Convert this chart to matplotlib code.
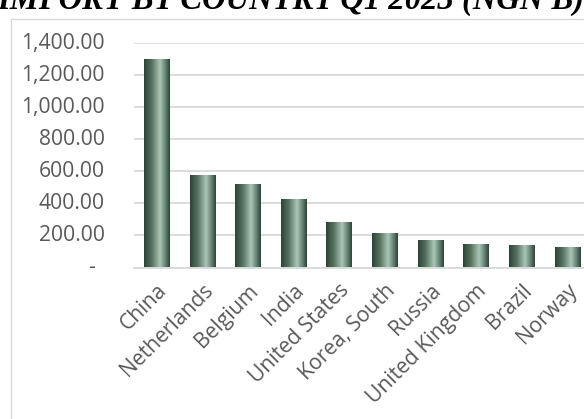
import numpy as np
import matplotlib
matplotlib.use('Agg')
import matplotlib.pyplot as plt
from matplotlib.colors import LinearSegmentedColormap
from matplotlib.patches import Rectangle
from matplotlib.transforms import ScaledTranslation

# 数据
countries = ['China', 'Netherlands', 'Belgium', 'India', 'United States',
             'Korea, South', 'Russia', 'United Kingdom', 'Brazil', 'Norway']
imports = [1300, 577, 521, 428, 285, 216, 171, 146, 140, 126]
yticks = [0, 200, 400, 600, 800, 1000, 1200, 1400]
title = 'IMPORT BY COUNTRY Q1 2023 (NGN B)'

grey = '#595959'
grid = '#d9d9d9'
fs = 15.2

fig = plt.figure(figsize=(5.84, 4.19), dpi=100)
W, H = 584, 419
ax = fig.add_axes([133.7 / W, 151.5 / H, (590 - 133.7) / W, (267.5 - 43) / H])

x = np.arange(len(countries))
bars = ax.bar(x, imports, width=0.55, facecolor='none', edgecolor='none', zorder=3)

# 渐变填充
cmap = LinearSegmentedColormap.from_list(
    'bar', [(0, '#2c4237'), (0.3, '#56725f'), (0.62, '#abc6b6'),
            (0.85, '#5d7a6b'), (1, '#2c4237')])
grad = np.linspace(0, 1, 256).reshape(1, -1)
for b in bars:
    x0 = b.get_x()
    w = b.get_width()
    h = b.get_height()
    im = ax.imshow(grad, extent=[x0, x0 + w, 0, h], aspect='auto', cmap=cmap,
                   zorder=3, interpolation='bilinear')
    im.set_clip_path(b)

ax.set_xlim(-0.5, len(countries) - 0.5)
ax.set_ylim(0, 1400)

ax.set_yticks(yticks)
ax.yaxis.grid(True, color=grid, linewidth=1.3, zorder=0)
ax.set_axisbelow(True)
ax.tick_params(axis='both', length=0)
ax.set_yticklabels([])
for v in yticks:
    if v == 0:
        lbl, dx = '-', -0.39
    else:
        lbl, dx = f'{v:,.2f}', -0.29
    ax.text(0, v, lbl, transform=ax.get_yaxis_transform() +
            ScaledTranslation(dx, 0, fig.dpi_scale_trans),
            ha='right', va='center', color=grey, fontsize=fs, family='Open Sans')

ax.set_xticks(x)
ax.set_xticklabels(countries, rotation=45, ha='right', rotation_mode='anchor',
                   color=grey, fontsize=fs, family='Open Sans')
ax.tick_params(axis='x', pad=9)

for s in ['top', 'right', 'left']:
    ax.spines[s].set_visible(False)
ax.spines['bottom'].set_color(grid)
ax.spines['bottom'].set_linewidth(1.3)

# 图框
fig.patches.append(Rectangle((11 / W, -0.05), 1.0, (H - 19) / H + 0.05,
                             transform=fig.transFigure, fill=False,
                             edgecolor=grid, linewidth=1.0))

fig.text(291 / W, 1 - 9 / H, title, ha='center', va='baseline',
         family='Liberation Serif', weight='bold', style='italic', fontsize=23.5)

fig.savefig('out.png', dpi=100)
